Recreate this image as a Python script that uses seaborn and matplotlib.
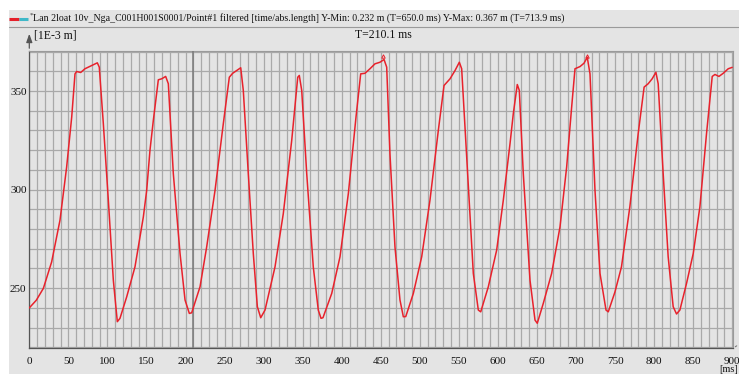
import numpy as np
import pandas as pd
import matplotlib
matplotlib.use("Agg")
import matplotlib.pyplot as plt
import matplotlib.ticker as mticker
from matplotlib.patches import Rectangle
from matplotlib.lines import Line2D
import seaborn as sns

# ---- data (time in ms, displacement in 1E-3 m) ----
time_ms = [0, 9, 18, 28.6, 39.3, 47.8, 54.3, 58.5, 60.6, 65.8, 71.3, 79.9, 87.1, 89.6,
           94.8, 101.2, 107.6, 112.7, 116.1, 124.7, 135.3, 146, 150.3, 154.5, 158.8,
           165.2, 169.5, 174.6, 178, 184.4, 193, 199.4, 204.9, 207.9, 218.6, 227.1,
           237.8, 248.4, 256.1, 260.4, 265.6, 270.7, 274, 280.4, 286.8, 292, 296.3,
           301.8, 308.2, 314.6, 325.2, 336, 343.7, 345.7, 348.8, 355.2, 363.6, 370,
           373.5, 376, 387.2, 397.8, 408.5, 418.3, 424.3, 429.8, 436.2, 442.6, 449,
           454.2, 457.6, 461.8, 468.2, 474.6, 478.9, 482, 491.7, 502.4, 513, 523.7,
           531, 538.7, 545.1, 550.6, 553.6, 560, 568.5, 574.9, 578, 587.7, 598.4,
           606.9, 615.5, 619.7, 624.8, 627.4, 632.5, 641.1, 647.5, 650.4, 658.1,
           668.8, 679.5, 688, 694.4, 698.7, 705.1, 710.2, 714.4, 717.9, 724.3, 730.7,
           738.4, 741.3, 749.8, 758.2, 768.9, 779.6, 787.2, 792.4, 797.5, 802.3,
           805.2, 811.6, 818, 824.4, 828.7, 833, 841.5, 850.1, 858.6, 867.1, 874.4,
           877.9, 883, 888.5, 894.9, 900]
length_mm = [240.0, 243.9, 249.9, 263.3, 284.5, 311.4, 336.8, 358.7, 359.9, 359.4, 361.3,
             362.9, 364.3, 362.1, 333.4, 294.6, 254.0, 233.0, 234.7, 245.6, 260.8, 286.1,
             299.6, 319.9, 335.1, 355.7, 356.2, 357.4, 353.7, 308.1, 267.6, 244.0, 237.2,
             237.5, 250.7, 270.9, 299.6, 333.4, 357.0, 359.0, 360.4, 361.8, 350.3, 308.1,
             267.6, 240.6, 235.0, 238.9, 249.9, 260.8, 287.8, 325.0, 357.0, 357.9, 350.3,
             308.1, 260.8, 238.9, 234.7, 235.0, 247.3, 265.9, 298.0, 336.8, 358.7, 359.0,
             361.3, 363.8, 364.6, 366.0, 362.1, 318.0, 270.9, 244.0, 235.5, 235.6, 247.3,
             265.9, 294.6, 330.0, 352.8, 356.2, 360.4, 364.6, 361.3, 316.5, 257.5, 238.9,
             238.0, 250.7, 269.3, 294.6, 323.3, 338.5, 353.3, 350.3, 308.1, 254.0, 233.8,
             232.2, 242.3, 257.5, 281.1, 311.4, 341.8, 361.3, 362.4, 364.1, 367.1, 358.7,
             299.6, 257.5, 238.9, 238.0, 248.0, 260.8, 291.2, 328.4, 352.0, 353.7, 356.2,
             359.5, 353.7, 308.1, 265.9, 240.6, 236.9, 238.9, 252.4, 267.6, 291.2, 328.4,
             357.4, 358.4, 357.4, 359.0, 361.3, 362.0]
x_ticks = [0, 50, 100, 150, 200, 250, 300, 350, 400, 450, 500, 550, 600, 650, 700, 750, 800, 850, 900]
y_ticks = [250, 300, 350]
cursor_t = 210.1
marker_t = [453.0, 714.4]
header = ("Lan 2loat 10v_Nga_C001H001S0001/Point#1 filtered [time/abs.length] "
          "Y-Min: 0.232 m (T=650.0 ms) Y-Max: 0.367 m (T=713.9 ms)")

df = pd.DataFrame({"t": time_ms, "v": length_mm})

W, H = 739, 374
BG = "#e4e4e4"
GRID = "#a9a9a9"
SERIF = ["Liberation Serif", "DejaVu Serif"]

sns.set_style("white")
plt.rcParams["font.family"] = SERIF

fig = plt.figure(figsize=(W / 100, H / 100), dpi=100)
fig.patch.set_facecolor("white")

def fx(px):
    return px / W

def fy(py):
    return 1 - py / H

# grey panel
fig.add_artist(Rectangle((fx(9), 0), 1 - fx(9), fy(10), transform=fig.transFigure,
                         facecolor=BG, edgecolor="none", zorder=0))
# header separator
fig.add_artist(Line2D([fx(9), 1], [fy(26.5), fy(26.5)], transform=fig.transFigure,
                      color="#9a9a9a", lw=0.8))
# legend icon
fig.add_artist(Line2D([fx(9), fx(19)], [fy(19), fy(19)], transform=fig.transFigure,
                      color="#e5202a", lw=2.2, solid_capstyle="butt"))
fig.add_artist(Line2D([fx(19), fx(28)], [fy(19), fy(19)], transform=fig.transFigure,
                      color="#3fb8c8", lw=2.2, solid_capstyle="butt"))
fig.text(fx(29.5), fy(15), "*", fontsize=5, color="#333333", va="center", ha="left")
fig.text(fx(33), fy(18), header, fontsize=7.1, color="#111111", va="center", ha="left")

left, right, top, bottom = 29.3, 733, 51, 348.3
ax = fig.add_axes([fx(left), fy(bottom), fx(right - left), (bottom - top) / H])
ax.set_facecolor(BG)

sns.lineplot(data=df, x="t", y="v", ax=ax, color="#e8222c", lw=1.1, sort=False,
             estimator=None, zorder=5)

ax.set_xlim(0, 901)
ax.set_ylim(219.5, 370.3)
ax.set_xlabel("")
ax.set_ylabel("")

ax.xaxis.set_major_locator(mticker.MultipleLocator(10))
ax.xaxis.set_minor_locator(mticker.MultipleLocator(2))
ax.yaxis.set_major_locator(mticker.MultipleLocator(10))
ax.yaxis.set_minor_locator(mticker.MultipleLocator(2))
ax.xaxis.set_major_formatter(mticker.FuncFormatter(
    lambda v, p: f"{int(round(v))}" if int(round(v)) in x_ticks else ""))
ax.yaxis.set_major_formatter(mticker.FuncFormatter(
    lambda v, p: f"{int(round(v))}" if int(round(v)) in y_ticks else ""))
ax.grid(True, which="major", color=GRID, lw=0.9)
ax.tick_params(axis="both", which="major", length=4, width=0.7, color="#666666",
               labelsize=8, labelcolor="#111111", pad=2)
ax.tick_params(axis="both", which="minor", length=2, width=0.5, color="#777777")
ax.tick_params(axis="x", which="both", direction="out")
ax.tick_params(axis="y", which="both", direction="in")
for lab in ax.get_xticklabels() + ax.get_yticklabels():
    lab.set_family(SERIF)

for s in ["left", "bottom"]:
    ax.spines[s].set_color("#555555")
    ax.spines[s].set_linewidth(0.9)
for s in ["top", "right"]:
    ax.spines[s].set_color("#9a9a9a")
    ax.spines[s].set_linewidth(0.8)

# cursor line
ax.axvline(cursor_t, color="#7a7a7a", lw=1.1, zorder=3)
# small red markers at top
ax.plot(marker_t, [368.0] * len(marker_t), ls="none", marker="^", ms=2.5,
        markerfacecolor="none", markeredgecolor="#e8222c", mew=0.7, clip_on=False, zorder=6)

# axis arrows
ax.annotate("", xy=(fx(left), fy(31)), xytext=(fx(left), fy(top)),
            xycoords="figure fraction", textcoords="figure fraction",
            arrowprops=dict(arrowstyle="-|>,head_length=0.5,head_width=0.18",
                            color="#555555", lw=0.9))
ax.annotate("", xy=(fx(739), fy(bottom - 4)), xytext=(fx(right), fy(bottom)),
            xycoords="figure fraction", textcoords="figure fraction",
            arrowprops=dict(arrowstyle="-", color="#777777", lw=0.8))

fig.text(fx(34), fy(36), "[1E-3 m]", fontsize=8.5, color="#111111", va="center", ha="left")
fig.text(fx(383), fy(35), "T=210.1 ms", fontsize=8.5, color="#111111", va="center", ha="center")
fig.text(fx(738.5), fy(370), "[ms]", fontsize=7.5, color="#111111", va="center", ha="right")

fig.savefig("out.png", dpi=100, facecolor=fig.get_facecolor())
